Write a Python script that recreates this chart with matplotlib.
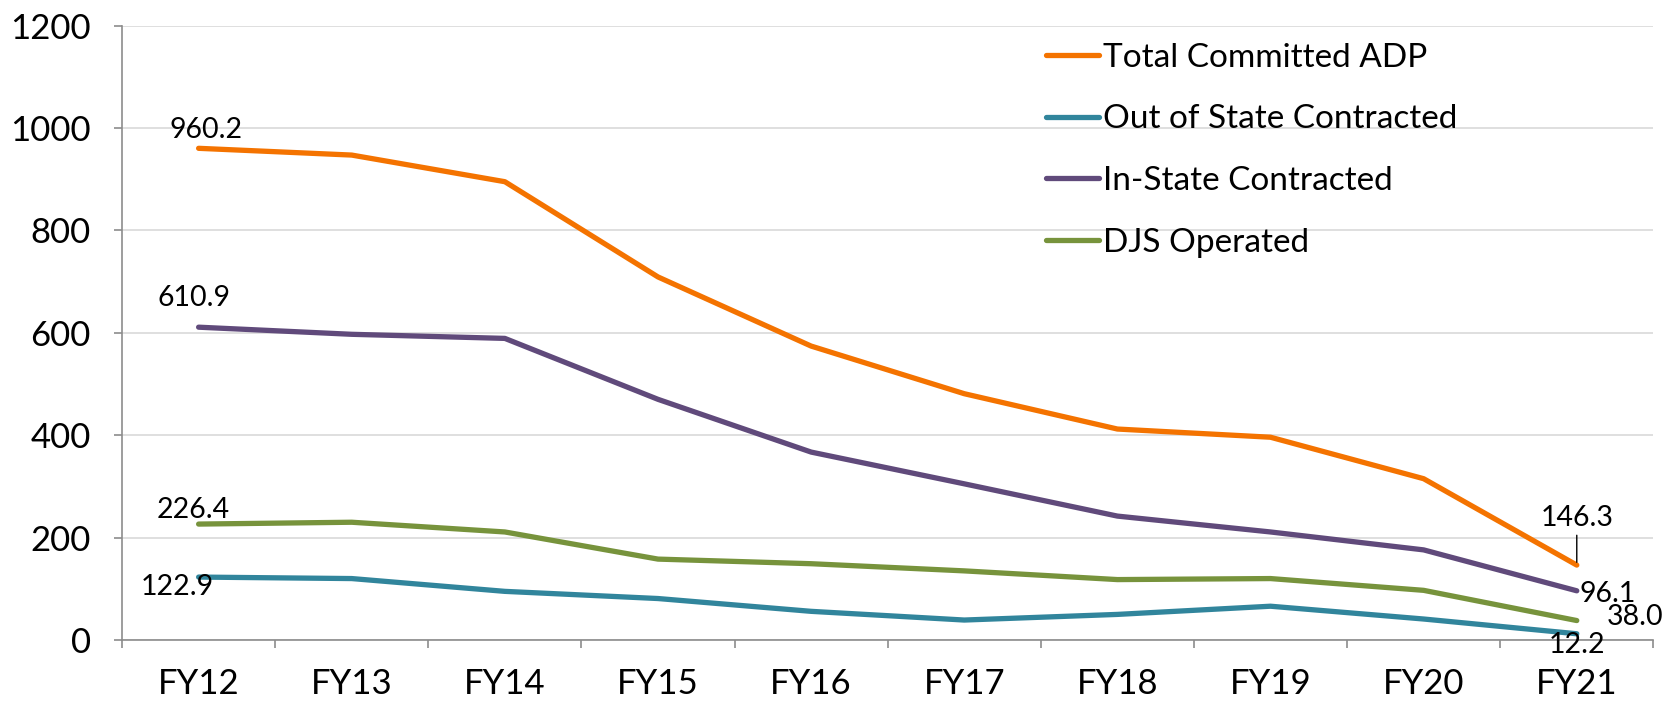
import matplotlib
matplotlib.use("Agg")
import matplotlib.pyplot as plt
import numpy as np

# ── data ──────────────────────────────────────────────────────────────────────
years = ["FY12", "FY13", "FY14", "FY15", "FY16", "FY17", "FY18", "FY19", "FY20", "FY21"]
total_adp = [960.2, 947, 895, 709, 574, 481, 412, 396, 315, 146.3]
out_of_state = [122.9, 120, 95, 81, 56, 39, 50, 66, 41, 12.2]
in_state = [610.9, 597, 589, 470, 367, 305, 242, 211, 176, 96.1]
djs_operated = [226.4, 230, 211, 158, 149, 135, 118, 120, 97, 38.0]

# ── colours ───────────────────────────────────────────────────────────────────
C_TOT = "#F47300"
C_OOS = "#31859C"
C_IN = "#604A7B"
C_DJS = "#77933C"

plt.rcParams["font.family"] = ["Lato", "DejaVu Sans"]

fig = plt.figure(figsize=(16.65, 7.03), dpi=100)
ax = fig.add_axes([0.0733, 0.0896, 0.9197, 0.8741])

x = np.arange(len(years))
lw = 3.8
kw = dict(linewidth=lw, solid_capstyle="round", solid_joinstyle="round", zorder=3)
ax.plot(x, total_adp, color=C_TOT, label="Total Committed ADP", **kw)
ax.plot(x, out_of_state, color=C_OOS, label="Out of State Contracted", **kw)
ax.plot(x, in_state, color=C_IN, label="In-State Contracted", **kw)
ax.plot(x, djs_operated, color=C_DJS, label="DJS Operated", **kw)

# ── axes styling ──────────────────────────────────────────────────────────────
ax.set_xlim(-0.5, len(years) - 0.5)
ax.set_ylim(0, 1200)
ax.set_yticks(np.arange(0, 1201, 200))
ax.set_xticks(x)
ax.set_xticklabels(years)
ax.set_xticks(np.arange(-0.5, len(years)), minor=True)
ax.grid(axis="y", color="#D9D9D9", linewidth=1.2, zorder=0)
ax.set_axisbelow(True)
for s in ("top", "right"):
    ax.spines[s].set_visible(False)
for s in ("left", "bottom"):
    ax.spines[s].set_color("#8C8C8C")
    ax.spines[s].set_linewidth(1.2)
ax.tick_params(axis="y", length=5.5, width=1.2, color="#8C8C8C", pad=17, labelsize=25)
ax.tick_params(axis="x", which="major", length=0, pad=20, labelsize=25)
ax.tick_params(axis="x", which="minor", length=6, width=1.2, color="#8C8C8C")

# ── data labels ───────────────────────────────────────────────────────────────
lab = dict(textcoords="offset pixels", ha="center", va="center", fontsize=20.5, zorder=4)
ax.annotate("960.2", (0, total_adp[0]), xytext=(7, 18), **lab)
ax.annotate("610.9", (0, in_state[0]), xytext=(-5, 29), **lab)
ax.annotate("226.4", (0, djs_operated[0]), xytext=(-5, 14), **lab)
ax.annotate("122.9", (0, out_of_state[0]), xytext=(-21, -10), **lab)
last = len(years) - 1
ax.annotate("146.3", (last, total_adp[-1]), xytext=(0, 47),
            arrowprops=dict(arrowstyle="-", color="black", lw=1.0, shrinkA=1, shrinkB=2), **lab)
ax.annotate("96.1", (last, in_state[-1]), xytext=(31, -3), **lab)
ax.annotate("38.0", (last, djs_operated[-1]), xytext=(58, 4), **lab)
ax.annotate("12.2", (last, out_of_state[-1]), xytext=(0, -11), **lab)

leg = ax.legend(loc="upper left", bbox_to_anchor=(0.588, 1.01), frameon=False, fontsize=24,
                handlelength=1.6, handletextpad=0.12, labelspacing=0.95, borderaxespad=0.3)

fig.savefig("out.png", dpi=100)
